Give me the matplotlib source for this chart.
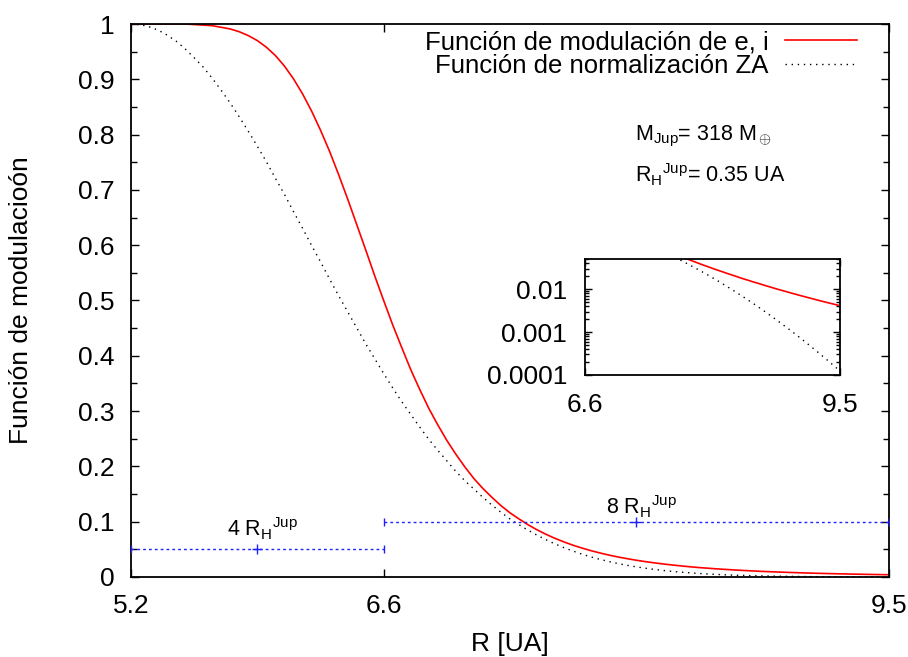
import numpy as np
import matplotlib
matplotlib.use('Agg')
import matplotlib.pyplot as plt
from matplotlib.ticker import MultipleLocator, FixedLocator, FixedFormatter, LogLocator, NullFormatter

plt.rcParams['font.family'] = ['Liberation Sans', 'DejaVu Sans']
plt.rcParams['mathtext.fontset'] = 'custom'
plt.rcParams['mathtext.rm'] = 'Liberation Sans'
plt.rcParams['mathtext.it'] = 'Liberation Sans:italic'
plt.rcParams['mathtext.bf'] = 'Liberation Sans:bold'

# radio en UA (malla de 0.05 UA entre 5.2 y 9.4)
r_ua = np.round(np.linspace(5.2, 9.4, 85), 2)

# funcion de modulacion de e, i (curva roja)
mod_ei = [1, 1, 1, 1, 1, 1, 1, 0.999, 0.998, 0.997, 0.994, 0.991, 0.986, 0.979, 0.97,
          0.958, 0.943, 0.924, 0.901, 0.874, 0.843, 0.808, 0.77, 0.728, 0.684, 0.638,
          0.592, 0.545, 0.5, 0.456, 0.415, 0.375, 0.339, 0.305, 0.275, 0.247, 0.222,
          0.199, 0.178, 0.16, 0.144, 0.129, 0.116, 0.105, 0.0945, 0.0853, 0.0771,
          0.0698, 0.0633, 0.0574, 0.0522, 0.0475, 0.0433, 0.0395, 0.0361, 0.0331,
          0.0303, 0.0278, 0.0256, 0.0235, 0.0217, 0.02, 0.0184, 0.017, 0.0158, 0.0146,
          0.0136, 0.0126, 0.0117, 0.0109, 0.0101, 0.00945, 0.00882, 0.00823, 0.0077,
          0.0072, 0.00674, 0.00632, 0.00593, 0.00556, 0.00522, 0.00491, 0.00462,
          0.00435, 0.0041]

# funcion de normalizacion ZA (curva punteada)
norm_za = [1, 0.999, 0.995, 0.989, 0.98, 0.969, 0.955, 0.939, 0.922, 0.902, 0.88,
           0.857, 0.832, 0.806, 0.779, 0.751, 0.721, 0.692, 0.661, 0.631, 0.6, 0.57,
           0.539, 0.509, 0.48, 0.451, 0.422, 0.395, 0.368, 0.342, 0.317, 0.294, 0.271,
           0.249, 0.229, 0.21, 0.191, 0.174, 0.159, 0.144, 0.13, 0.117, 0.105, 0.0946,
           0.0846, 0.0756, 0.0673, 0.0597, 0.0529, 0.0468, 0.0412, 0.0362, 0.0318,
           0.0278, 0.0242, 0.0211, 0.0183, 0.0159, 0.0137, 0.0118, 0.0101, 0.00868,
           0.00742, 0.00633, 0.00538, 0.00457, 0.00386, 0.00326, 0.00275, 0.0023,
           0.00193, 0.00161, 0.00134, 0.00112, 0.000926, 0.000766, 0.000632, 0.00052,
           0.000426, 0.000349, 0.000285, 0.000232, 0.000188, 0.000153, 0.000123]

# anchos de Hill (barras azules)
hill_x = [5.9, 8.0]
hill_y = [0.05, 0.1]
hill_xerr = [0.7, 1.4]
hill_labels = [r'4 R$_\mathrm{H}{}^\mathrm{Jup}$', r'8 R$_\mathrm{H}{}^\mathrm{Jup}$']

xtick_pos = [5.2, 6.6, 9.4]
xtick_lab = ['5.2', '6.6', '9.5']
ins_xtick_pos = [6.6, 9.4]
ins_xtick_lab = ['6.6', '9.5']
ins_ytick_pos = [1e-4, 1e-3, 1e-2]
ins_ytick_lab = ['0.0001', '0.001', '0.01']

fs_tick = 19
fs_lab = 19
fs_leg = 18.5
fs_txt = 15.5

fig = plt.figure(figsize=(9.08, 6.57), dpi=100)
ax = fig.add_axes([131/908, 1-577/657, 758/908, 553/657])

ax.plot(r_ua, mod_ei, color='#ff0000', lw=1.2, label=u'Función de modulación de e, i')
ax.plot(r_ua, norm_za, color='black', lw=1.0, linestyle=(0, (1, 3.4)),
        label=u'Función de normalización ZA')
ax.errorbar(hill_x, hill_y, xerr=hill_xerr, fmt='+', color='#2020ff', ms=7, mew=1,
            ecolor='#2020ff', elinewidth=1.0, capsize=3, ls='none', zorder=3)
for eb in ax.containers:
    for lc in eb.lines[2]:
        lc.set_linestyle((0, (2, 2.2)))
lab_dy = [0.024, 0.014]
for xc, yc, lab, dy in zip(hill_x, hill_y, hill_labels, lab_dy):
    ax.text(xc + 0.03, yc + dy, lab, ha='center', va='baseline', fontsize=fs_txt)

ax.set_xlim(5.2, 9.4)
ax.set_ylim(0, 1)
ax.xaxis.set_major_locator(FixedLocator(xtick_pos))
ax.xaxis.set_major_formatter(FixedFormatter(xtick_lab))
ax.yaxis.set_major_locator(MultipleLocator(0.1))
ax.yaxis.set_minor_locator(MultipleLocator(0.05))
ax.yaxis.set_major_formatter(plt.FuncFormatter(lambda v, p: '%g' % round(v, 2)))
ax.tick_params(which='both', direction='in', top=True, right=True, labelsize=fs_tick, width=1)
ax.tick_params(which='major', length=6, pad=12)
ax.tick_params(which='minor', length=4)
for s in ax.spines.values():
    s.set_linewidth(1.3)

ax.set_xlabel('R [UA]', fontsize=fs_lab)
ax.xaxis.set_label_coords(0.5, -0.1)
ax.set_ylabel(u'Función de modulacioón', fontsize=fs_lab)
ax.yaxis.set_label_coords(-0.129, 0.5)

leg = ax.legend(loc='upper right', bbox_to_anchor=(726/758, 0.989), frameon=False,
                markerfirst=False, fontsize=fs_leg, handlelength=2.8, handletextpad=0.65,
                labelspacing=0.0, borderpad=0, borderaxespad=0)

ax.text(0.665, 0.79, r'M$_\mathrm{Jup}$= 318 M$_\oplus$', transform=ax.transAxes,
        fontsize=fs_txt, va='baseline')
ax.text(0.665, 0.714, r'R$_\mathrm{H}{}^\mathrm{Jup}$= 0.35 UA', transform=ax.transAxes,
        fontsize=fs_txt, va='baseline')

# recuadro logaritmico
axi = fig.add_axes([585/908, 1-375/657, 255/908, 116/657])
axi.plot(r_ua, mod_ei, color='#ff0000', lw=1.2)
axi.plot(r_ua, norm_za, color='black', lw=1.0, linestyle=(0, (1, 3.4)))
axi.set_yscale('log')
axi.set_xlim(6.6, 9.4)
axi.set_ylim(1e-4, 0.05)
axi.xaxis.set_major_locator(FixedLocator(ins_xtick_pos))
axi.xaxis.set_major_formatter(FixedFormatter(ins_xtick_lab))
axi.yaxis.set_major_locator(FixedLocator(ins_ytick_pos))
axi.yaxis.set_major_formatter(FixedFormatter(ins_ytick_lab))
axi.yaxis.set_minor_locator(LogLocator(base=10, subs=np.arange(2, 10), numticks=10))
axi.yaxis.set_minor_formatter(NullFormatter())
axi.tick_params(which='both', direction='in', top=True, right=True, labelsize=fs_tick, width=1)
axi.tick_params(which='major', length=5, pad=13)
axi.tick_params(which='minor', length=3)
for s in axi.spines.values():
    s.set_linewidth(1.3)

fig.savefig('out.png', dpi=100)
